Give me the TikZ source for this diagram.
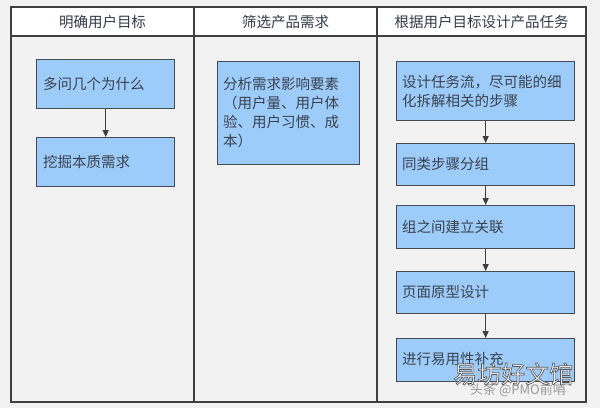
\documentclass[tikz,border=0pt]{standalone}
\usepackage{fontspec}
\newfontfamily\cjk{Noto Sans CJK SC}
\usetikzlibrary{arrows.meta}
\definecolor{bg}{HTML}{F2F2F2}
\definecolor{boxfill}{HTML}{9ECCFA}
\definecolor{boxline}{HTML}{454B54}
\definecolor{txt}{HTML}{38424E}
\definecolor{frame}{HTML}{3F3F3F}
\newcommand{\outlinetext}[1]{\special{pdf:code 2 Tr 0.7 w 0.35 G}#1\special{pdf:code 0 Tr}}
\tikzset{
  stepbox/.style={draw=boxline, line width=1.3pt, fill=boxfill, anchor=north west,
    inner sep=0pt, text=txt},
  boxtext/.style={anchor=west, align=left, text=txt, inner sep=0pt,
    font=\cjk\fontsize{14.5}{19}\selectfont},
  headtext/.style={text=txt!90!black, inner sep=0pt, font=\cjk\fontsize{14.5}{17}\selectfont},
  flow/.style={draw=frame, line width=1.2pt, -{Triangle[length=7pt,width=6pt]}},
  framel/.style={draw=frame, line width=1.6pt},
}
\begin{document}
\begin{tikzpicture}[x=1pt,y=-1pt]
\useasboundingbox (0,0) rectangle (600,408);
\fill[bg] (0,0) rectangle (600,408);
% columns
\fill[white] (11,7) rectangle (586,36);
\draw[framel] (11,7) rectangle (586,402);
\draw[framel] (11,36) -- (586,36);
\draw[framel] (194,7) -- (194,402);
\draw[framel] (377,7) -- (377,402);
% headers
\node[headtext] (h1) at (102.5,22) {明确用户目标};
\node[headtext] (h2) at (285.5,22) {筛选产品需求};
\node[headtext] (h3) at (481.5,22) {根据用户目标设计产品任务};
% column 1
\node[stepbox, minimum width=138pt, minimum height=49pt] (a1) at (36,59) {};
\node[boxtext] (a1t) at (43,83.5) {多问几个为什么};
\node[stepbox, minimum width=138pt, minimum height=49pt] (a2) at (36,137) {};
\node[boxtext] (a2t) at (43,161.5) {挖掘本质需求};
\draw[flow] (a1.south) -- (a2.north);
% column 2
\node[stepbox, minimum width=142pt, minimum height=103pt] (b1) at (217,61) {};
\node[boxtext] (b1t) at (223,113) {分析需求影响要素\\（用户量、用户体\\验、用户习惯、成\\本）};
% column 3
\node[stepbox, minimum width=178pt, minimum height=59pt] (c1) at (396,61) {};
\node[boxtext] (c1t) at (402,91) {设计任务流，尽可能的细\\化拆解相关的步骤};
\node[stepbox, minimum width=178pt, minimum height=42pt] (c2) at (396,143) {};
\node[boxtext] (c2t) at (402,164) {同类步骤分组};
\node[stepbox, minimum width=178pt, minimum height=43pt] (c3) at (396,205) {};
\node[boxtext] (c3t) at (402,227) {组之间建立关联};
\node[stepbox, minimum width=178pt, minimum height=42pt] (c4) at (396,271) {};
\node[boxtext] (c4t) at (402,292) {页面原型设计};
\node[stepbox, minimum width=178pt, minimum height=43pt] (c5) at (396,338) {};
\node[boxtext] (c5t) at (402,359) {进行易用性补充};
\draw[flow] (c1.south) -- (c2.north);
\draw[flow] (c2.south) -- (c3.north);
\draw[flow] (c3.south) -- (c4.north);
\draw[flow] (c4.south) -- (c5.north);
% watermark
\node[anchor=west, inner sep=0pt, text=black!40, font=\cjk\fontsize{13}{15}\selectfont] (wm2) at (470,390) {头条 @PMO前哨};
\node[anchor=west, inner sep=0pt, text=white, font=\cjk\fontsize{24}{26}\selectfont] (wm1) at (453,374) {\outlinetext{易坊好文馆}};
\end{tikzpicture}
\end{document}
